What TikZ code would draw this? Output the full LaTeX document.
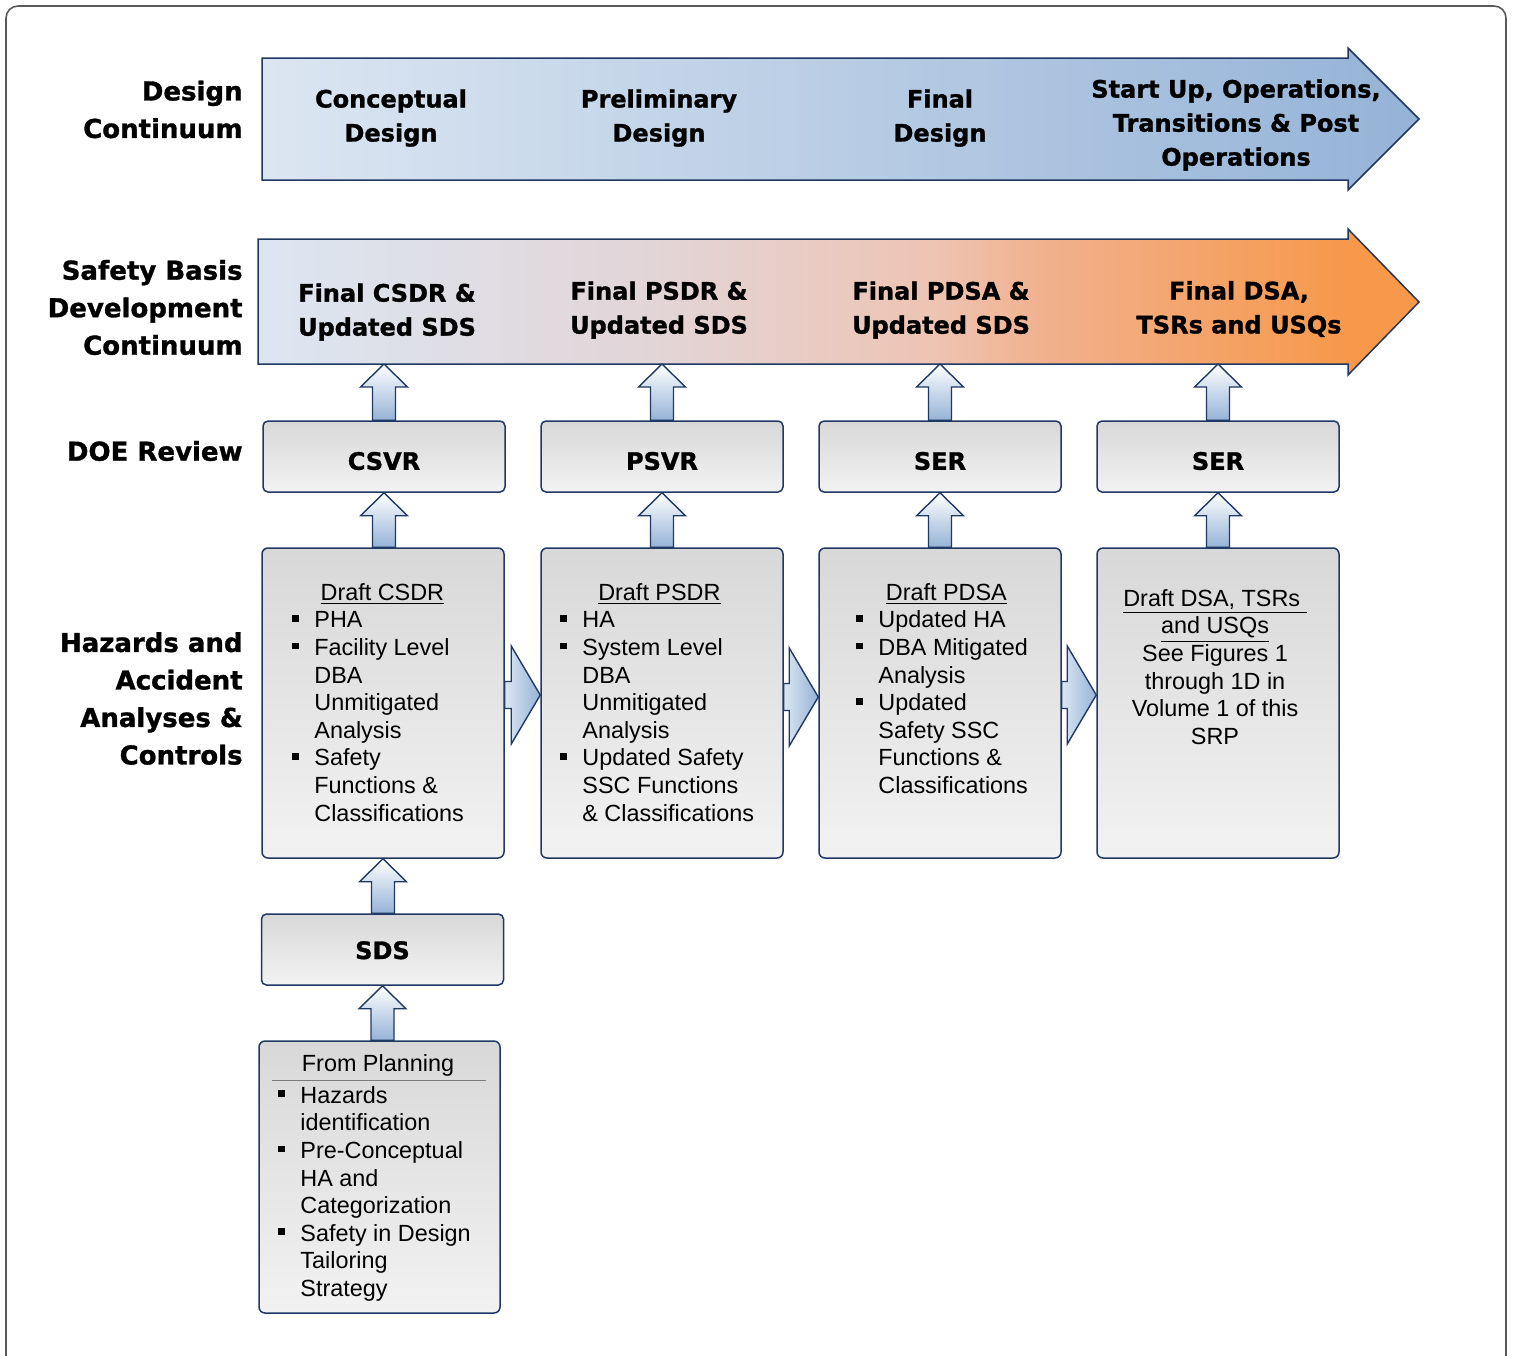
\documentclass[tikz,border=0pt]{standalone}
\usepackage{fontspec}
\setmainfont{Liberation Sans}
\newfontfamily\hfont{DejaVu Sans}[BoldFeatures={FakeBold=1.2}]
\usetikzlibrary{calc}
\definecolor{navy}{RGB}{31,56,100}
\definecolor{lb}{RGB}{220,230,242}
\definecolor{mb}{RGB}{149,179,215}
\definecolor{pk}{RGB}{226,213,215}
\definecolor{pk2}{RGB}{238,196,180}
\definecolor{pk3}{RGB}{241,176,140}
\definecolor{orng}{RGB}{247,152,74}
\definecolor{g1}{RGB}{216,216,216}
\definecolor{g2}{RGB}{242,242,242}
\definecolor{frame}{RGB}{90,90,90}
\pgfdeclarehorizontalshading{safetysh}{100bp}{color(0bp)=(lb); color(25bp)=(lb); color(42bp)=(pk); color(54bp)=(pk2); color(59bp)=(pk3); color(72bp)=(orng); color(100bp)=(orng)}
\newcommand{\bul}{\makebox[11pt][l]{\rule[3.1pt]{3.4pt}{3.4pt}}}
\newcommand{\ind}{\hspace*{11pt}}
\newcommand{\blockup}[2]{\draw[uparrsty] let \p1=#1, \p2=#2 in
  (\x2-5.75pt,\y1) -- (\x2-5.75pt,\y2-11.5pt) -- (\x2-11.75pt,\y2-11.5pt) -- (\x2,\y2)
  -- (\x2+11.75pt,\y2-11.5pt) -- (\x2+5.75pt,\y2-11.5pt) -- (\x2+5.75pt,\y1) -- cycle;}
\newcommand{\blockright}[2]{\draw[sidearrsty] let \p1=#1, \p2=#2 in
  (\x1,\y1+6.75pt) -- (\x2-14.5pt,\y1+6.75pt) -- (\x2-14.5pt,\y1+24.5pt) -- (\x2,\y1)
  -- (\x2-14.5pt,\y1-24.5pt) -- (\x2-14.5pt,\y1-6.75pt) -- (\x1,\y1-6.75pt) -- cycle;}
\tikzset{
  arrowsty/.style={draw=navy, line width=0.75pt, line join=miter},
  uparrsty/.style={draw=navy, line width=0.7pt, top color=white, bottom color=mb},
  sidearrsty/.style={draw=navy, line width=0.7pt, left color=lb, right color=mb},
  revbox/.style={draw=navy, line width=0.75pt, rounded corners=2.5pt, top color=g1, bottom color=g2,
    minimum width=121pt, minimum height=35.5pt, inner sep=0pt, text height=13.25pt, text depth=0pt,
    font=\hfont\bfseries\fontsize{12}{14}\selectfont},
  bigbox/.style={draw=navy, line width=0.75pt, rounded corners=3pt, top color=g1, bottom color=g2,
    minimum width=121pt, minimum height=155pt, inner sep=0pt},
  lbl/.style={font=\hfont\bfseries\fontsize{13}{18.75}\selectfont, align=right, anchor=east, inner sep=0pt},
  albl/.style={font=\hfont\bfseries\fontsize{12}{17}\selectfont, align=center, inner sep=0pt},
  btext/.style={font=\fontsize{11.7}{13.8}\selectfont, align=left, inner sep=0pt},
}
\begin{document}
\begin{tikzpicture}[x=0.5pt, y=-0.5pt]
\useasboundingbox (0,0) rectangle (1514,1355);
\draw[frame, line width=0.8pt, rounded corners=6pt] (6,6) rectangle (1506,1420);

% continuum arrows
\draw[arrowsty, left color=lb, right color=mb]
  (262,58) -- (1348,58) -- (1348,48) -- (1419,119) -- (1348,190) -- (1348,180) -- (262,180) -- cycle;
\draw[arrowsty, shading=safetysh, shade]
  (258,239) -- (1348,239) -- (1348,229) -- (1419,302) -- (1348,375) -- (1348,364) -- (258,364) -- cycle;
\coordinate (sb1) at (384,364);
\coordinate (sb2) at (662,364);
\coordinate (sb3) at (940,364);
\coordinate (sb4) at (1218,364);

% row labels
\node[lbl] (lab1) at (243,109.5) {Design\\Continuum};
\node[lbl] (lab2) at (243,307.5) {Safety Basis\\Development\\Continuum};
\node[lbl] (lab3) at (243,451) {DOE Review};
\node[lbl] (lab4) at (243,698.5) {Hazards and\\Accident\\Analyses \&\\Controls};

% design continuum labels
\node[albl] (d1) at (391,118) {Conceptual\\Design};
\node[albl] (d2) at (659,118) {Preliminary\\Design};
\node[albl] (d3) at (940,118) {Final\\Design};
\node[albl] (d4) at (1236,125) {Start Up, Operations,\\Transitions \& Post\\Operations};

% safety basis labels
\node[albl] (s1) at (387,312) {Final CSDR \&\\Updated SDS};
\node[albl] (s2) at (659,310) {Final PSDR \&\\Updated SDS};
\node[albl] (s3) at (941,310) {Final PDSA \&\\Updated SDS};
\node[albl] (s4) at (1239,309) {Final DSA,\\TSRs and USQs};

% review boxes
\node[revbox] (r1) at (384,456.5) {CSVR};
\node[revbox] (r2) at (662,456.5) {PSVR};
\node[revbox] (r3) at (940,456.5) {SER};
\node[revbox] (r4) at (1218,456.5) {SER};

% big boxes
\node[bigbox] (b1) at (383,703) {};
\node[bigbox] (b2) at (662,703) {};
\node[bigbox] (b3) at (940,703) {};
\node[bigbox] (b4) at (1218,703) {};

% SDS and planning
\node[revbox, text height=9.5pt] (sds) at (382.5,949.5) {SDS};
\node[bigbox, minimum width=120.5pt, minimum height=136pt] (plan) at (379.5,1177) {};

% up arrows
\blockup{(r1.north)}{(sb1)}
\blockup{(r2.north)}{(sb2)}
\blockup{(r3.north)}{(sb3)}
\blockup{(r4.north)}{(sb4)}
\blockup{(b1.north)}{(r1.south)}
\blockup{(b2.north)}{(r2.south)}
\blockup{(b3.north)}{(r3.south)}
\blockup{(b4.north)}{(r4.south)}
\blockup{(sds.north)}{(b1.south)}
\blockup{(plan.north)}{(sds.south)}

% side arrows
\blockright{($(b1.east)+(0,-8)$)}{(b2.west)}
\blockright{($(b2.east)+(0,-6)$)}{(b3.west)}
\blockright{($(b3.east)+(0,-8)$)}{(b4.west)}

% box texts
\node[btext, anchor=north west] (t1) at (292,583) {\makebox[90pt][c]{\underline{Draft CSDR}}\\
\bul PHA\\ \bul Facility Level\\ \ind DBA\\ \ind Unmitigated\\ \ind Analysis\\
\bul Safety\\ \ind Functions \&\\ \ind Classifications};
\node[btext, anchor=north west] (t2) at (560,583) {\makebox[99pt][c]{\underline{Draft PSDR}}\\
\bul HA\\ \bul System Level\\ \ind DBA\\ \ind Unmitigated\\ \ind Analysis\\
\bul Updated Safety\\ \ind SSC Functions\\ \ind \& Classifications};
\node[btext, anchor=north west] (t3) at (856,583) {\makebox[90pt][c]{\underline{Draft PDSA}}\\
\bul Updated HA\\ \bul DBA Mitigated\\ \ind Analysis\\ \bul Updated\\ \ind Safety SSC\\
\ind Functions \&\\ \ind Classifications};
\node[btext, align=center, anchor=north] (t4) at (1215,589) {\underline{Draft DSA, TSRs\ }\\
\underline{and USQs}\\ See Figures 1\\ through 1D in\\ Volume 1 of this\\ SRP};

\node[btext] (pt) at (378,1065) {From Planning};
\draw[frame!80, line width=0.5pt] (272,1080) -- (486,1080);
\node[btext, anchor=north west] (t5) at (278,1086) {\bul Hazards\\ \ind identification\\
\bul Pre-Conceptual\\ \ind HA and\\ \ind Categorization\\ \bul Safety in Design\\
\ind Tailoring\\ \ind Strategy};
\end{tikzpicture}
\end{document}
